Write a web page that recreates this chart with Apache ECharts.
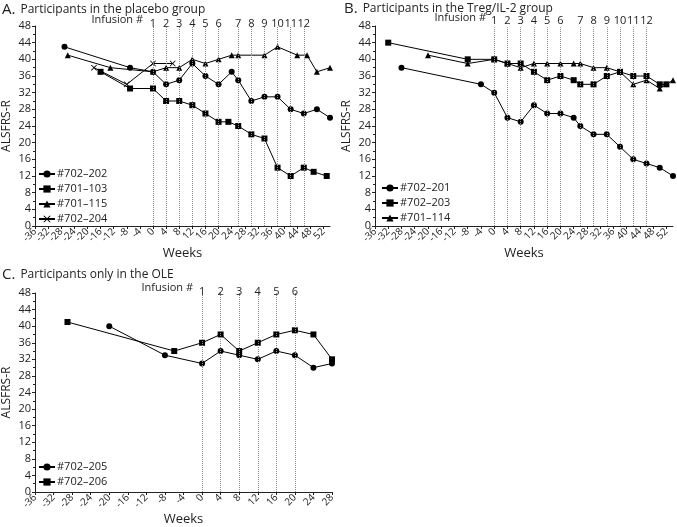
<!DOCTYPE html>
<html>
<head>
<meta charset="utf-8">
<script src="https://cdn.jsdelivr.net/npm/echarts@6/dist/echarts.min.js"></script>
<style>
  html, body { margin: 0; padding: 0; background: #fff; }
  #main { width: 677px; height: 527px; }
</style>
</head>
<body>
<div id="main"></div>
<script>
// panel A - placebo group
var weeksA202 = [-27, -7, 0, 4, 8, 12, 16, 20, 24, 26, 30, 34, 38, 42, 46, 50, 54];
var valsA202 = [43, 38, 37, 34, 35, 39, 36, 34, 37, 35, 30, 31, 31, 28, 27, 28, 26];
var weeksA103 = [-16, -7, 0, 4, 8, 12, 16, 20, 23, 26, 30, 34, 38, 42, 46, 49, 53];
var valsA103 = [37, 33, 33, 30, 30, 29, 27, 25, 25, 24, 22, 21, 14, 12, 14, 13, 12];
var weeksA115 = [-26, -13, 0, 4, 8, 12, 16, 20, 24, 26, 34, 38, 44, 47, 50, 54];
var valsA115 = [41, 38, 37, 38, 38, 40, 39, 40, 41, 41, 41, 43, 41, 41, 37, 38];
var weeksA204 = [-18, -8, 0, 6];
var valsA204 = [38, 34, 39, 39];

// panel B - Treg/IL-2 group
var weeksB201 = [-28, -4, 0, 4, 8, 12, 16, 20, 24, 26, 30, 34, 38, 42, 46, 50, 54];
var valsB201 = [38, 34, 32, 26, 25, 29, 27, 27, 26, 24, 22, 22, 19, 16, 15, 14, 12];
var weeksB203 = [-32, -8, 0, 4, 8, 12, 16, 20, 24, 26, 30, 34, 38, 42, 46, 50, 52];
var valsB203 = [44, 40, 40, 39, 39, 37, 35, 36, 35, 34, 34, 36, 37, 36, 36, 34, 34];
var weeksB114 = [-20, -8, 0, 4, 8, 12, 16, 20, 24, 26, 30, 34, 38, 42, 46, 50, 54];
var valsB114 = [41, 39, 40, 39, 38, 39, 39, 39, 39, 39, 38, 38, 37, 34, 35, 33, 35];

// panel C - OLE only
var weeksC205 = [-20, -8, 0, 4, 8, 12, 16, 20, 24, 28];
var valsC205 = [40, 33, 31, 34, 33, 32, 34, 33, 30, 31];
var weeksC206 = [-29, -6, 0, 4, 8, 12, 16, 20, 24, 28];
var valsC206 = [41, 34, 36, 38, 34, 36, 38, 39, 38, 32];

// infusion weeks
var infusionWeeksAB = [0, 4, 8, 12, 16, 20, 26, 30, 34, 38, 42, 46];
var infusionLabelsAB = ['1', '2', '3', '4', '5', '6', '7', '8', '9', '10', '11', '12'];
var infusionWeeksC = [0, 4, 8, 12, 16, 20];
var infusionLabelsC = ['1', '2', '3', '4', '5', '6'];

var FONT = '"Open Sans", "DejaVu Sans", sans-serif';
var xIcon = 'path://M0,1L1,0L5,4L9,0L10,1L6,5L10,9L9,10L5,6L1,10L0,9L4,5Z';

function pairs(xs, ys) {
  return xs.map(function (x, i) { return [x, ys[i]]; });
}

function infusionLines(weeks, labels, dist) {
  return {
    silent: true,
    symbol: 'none',
    animation: false,
    lineStyle: { type: 'dotted', color: '#8a8a8a', width: 1 },
    label: { show: true, position: 'end', formatter: '{b}', color: '#222', fontSize: 11, fontFamily: FONT, distance: dist },
    emphasis: { disabled: true },
    data: weeks.map(function (w, i) { return { xAxis: w, name: labels[i] }; })
  };
}

function line(name, idx, data, symbol, size) {
  return {
    name: name,
    type: 'line',
    xAxisIndex: idx,
    yAxisIndex: idx,
    data: data,
    symbol: symbol,
    symbolSize: size,
    showSymbol: true,
    animation: false,
    color: '#000',
    lineStyle: { color: '#000', width: 1 },
    itemStyle: { color: '#000' },
    z: 3
  };
}

var xLabelStyle = { rotate: 45, fontSize: 10, color: '#222', fontFamily: FONT, margin: 4 };

// main week axis; its end labels are hidden so the rotated labels next to them are not dropped
function xAx(idx, max) {
  return {
    type: 'value', gridIndex: idx, min: -36, max: max, interval: 4, position: 'bottom',
    name: 'Weeks', nameLocation: 'middle', nameGap: 21,
    nameTextStyle: { fontSize: 13, color: '#222', fontFamily: FONT },
    axisLine: { onZero: false, lineStyle: { color: '#222' } },
    axisTick: { length: 3, lineStyle: { color: '#222' } },
    axisLabel: Object.assign({}, xLabelStyle, { showMinLabel: false, showMaxLabel: false }),
    splitLine: { show: false }
  };
}

// second axis on the same grid that only writes the end labels
function xEnds(idx, max, showMax) {
  return {
    type: 'value', gridIndex: idx, min: -36, max: max, interval: 4, position: 'bottom',
    axisLine: { show: false, onZero: false },
    axisTick: { show: true, length: 3, lineStyle: { color: '#222' } },
    axisLabel: Object.assign({}, xLabelStyle, {
      showMinLabel: true, showMaxLabel: showMax,
      formatter: function (v) { return (v === -36 || (showMax && v === max)) ? String(v) : ''; }
    }),
    splitLine: { show: false }
  };
}

function yAx(idx) {
  return {
    type: 'value', gridIndex: idx, min: 0, max: 48, interval: 4,
    name: 'ALSFRS-R', nameLocation: 'middle', nameGap: 22,
    nameTextStyle: { fontSize: 12, color: '#222', fontFamily: FONT },
    axisLine: { show: true, onZero: false, lineStyle: { color: '#222' } },
    axisTick: { show: true, length: 3, lineStyle: { color: '#222' } },
    minorTick: { show: true, splitNumber: 2, length: 2, lineStyle: { color: '#222' } },
    axisLabel: { fontSize: 11, color: '#222', fontFamily: FONT, margin: 4 },
    splitLine: { show: false }
  };
}

function legend(left, top, names) {
  return {
    left: left, top: top, orient: 'vertical', itemGap: 3, padding: 0,
    itemWidth: 16, itemHeight: 9,
    textStyle: { fontSize: 11, lineHeight: 12, color: '#222', fontFamily: FONT, padding: [0, 0, 0, -3] },
    data: names,
    selectedMode: false
  };
}

function titleText(letter, text, left, top) {
  return {
    text: '{b|' + letter + '} {n|' + text + '}',
    left: left, top: top, padding: 0,
    textStyle: {
      fontWeight: 'normal',
      rich: {
        b: { fontSize: 15, fontWeight: 'normal', color: '#222', fontFamily: FONT },
        n: { fontSize: 12, fontWeight: 'normal', color: '#222', fontFamily: FONT }
      }
    }
  };
}

var seriesA1 = line('#702–202', 0, pairs(weeksA202, valsA202), 'circle', 6);
seriesA1.markLine = infusionLines(infusionWeeksAB, infusionLabelsAB, -3);
var seriesB1 = line('#702–201', 1, pairs(weeksB201, valsB201), 'circle', 6);
seriesB1.markLine = infusionLines(infusionWeeksAB, infusionLabelsAB, 0);
var seriesC1 = line('#702–205', 2, pairs(weeksC205, valsC205), 'circle', 6);
seriesC1.markLine = infusionLines(infusionWeeksC, infusionLabelsC, -4);

var option = {
  backgroundColor: '#fff',
  animation: false,
  title: [
    titleText('A.', 'Participants in the placebo group', 2, 1),
    titleText('B.', 'Participants in the Treg/IL-2 group', 344, 0),
    titleText('C.', 'Participants only in the OLE', 2, 266)
  ],
  graphic: [
    { type: 'text', right: 677 - 143, top: 14, style: { text: 'Infusion #', fontSize: 11, fill: '#222', fontFamily: FONT } },
    { type: 'text', right: 677 - 486, top: 12, style: { text: 'Infusion #', fontSize: 11, fill: '#222', fontFamily: FONT } },
    { type: 'text', right: 677 - 193, top: 282, style: { text: 'Infusion #', fontSize: 11, fill: '#222', fontFamily: FONT } }
  ],
  grid: [
    { left: 32, top: 26, width: 298, height: 200 },
    { left: 375, top: 26, width: 298, height: 200 },
    { left: 32, top: 293, width: 300, height: 200 }
  ],
  xAxis: [xAx(0, 54), xAx(1, 54), xAx(2, 28), xEnds(0, 54, false), xEnds(1, 54, false), xEnds(2, 28, true)],
  yAxis: [yAx(0), yAx(1), yAx(2)],
  legend: [
    legend(38, 168, ['#702–202', '#701–103', '#701–115', '#702–204']),
    legend(381, 182, ['#702–201', '#702–203', '#701–114']),
    legend(38, 461, ['#702–205', '#702–206'])
  ],
  series: [
    seriesA1,
    line('#701–103', 0, pairs(weeksA103, valsA103), 'rect', 6),
    line('#701–115', 0, pairs(weeksA115, valsA115), 'triangle', 6),
    line('#702–204', 0, pairs(weeksA204, valsA204), xIcon, 6),
    seriesB1,
    line('#702–203', 1, pairs(weeksB203, valsB203), 'rect', 6),
    line('#701–114', 1, pairs(weeksB114, valsB114), 'triangle', 6),
    seriesC1,
    line('#702–206', 2, pairs(weeksC206, valsC206), 'rect', 6)
  ]
};

var chart = echarts.init(document.getElementById('main'), null, { renderer: 'canvas' });
chart.setOption(option);
</script>
</body>
</html>
